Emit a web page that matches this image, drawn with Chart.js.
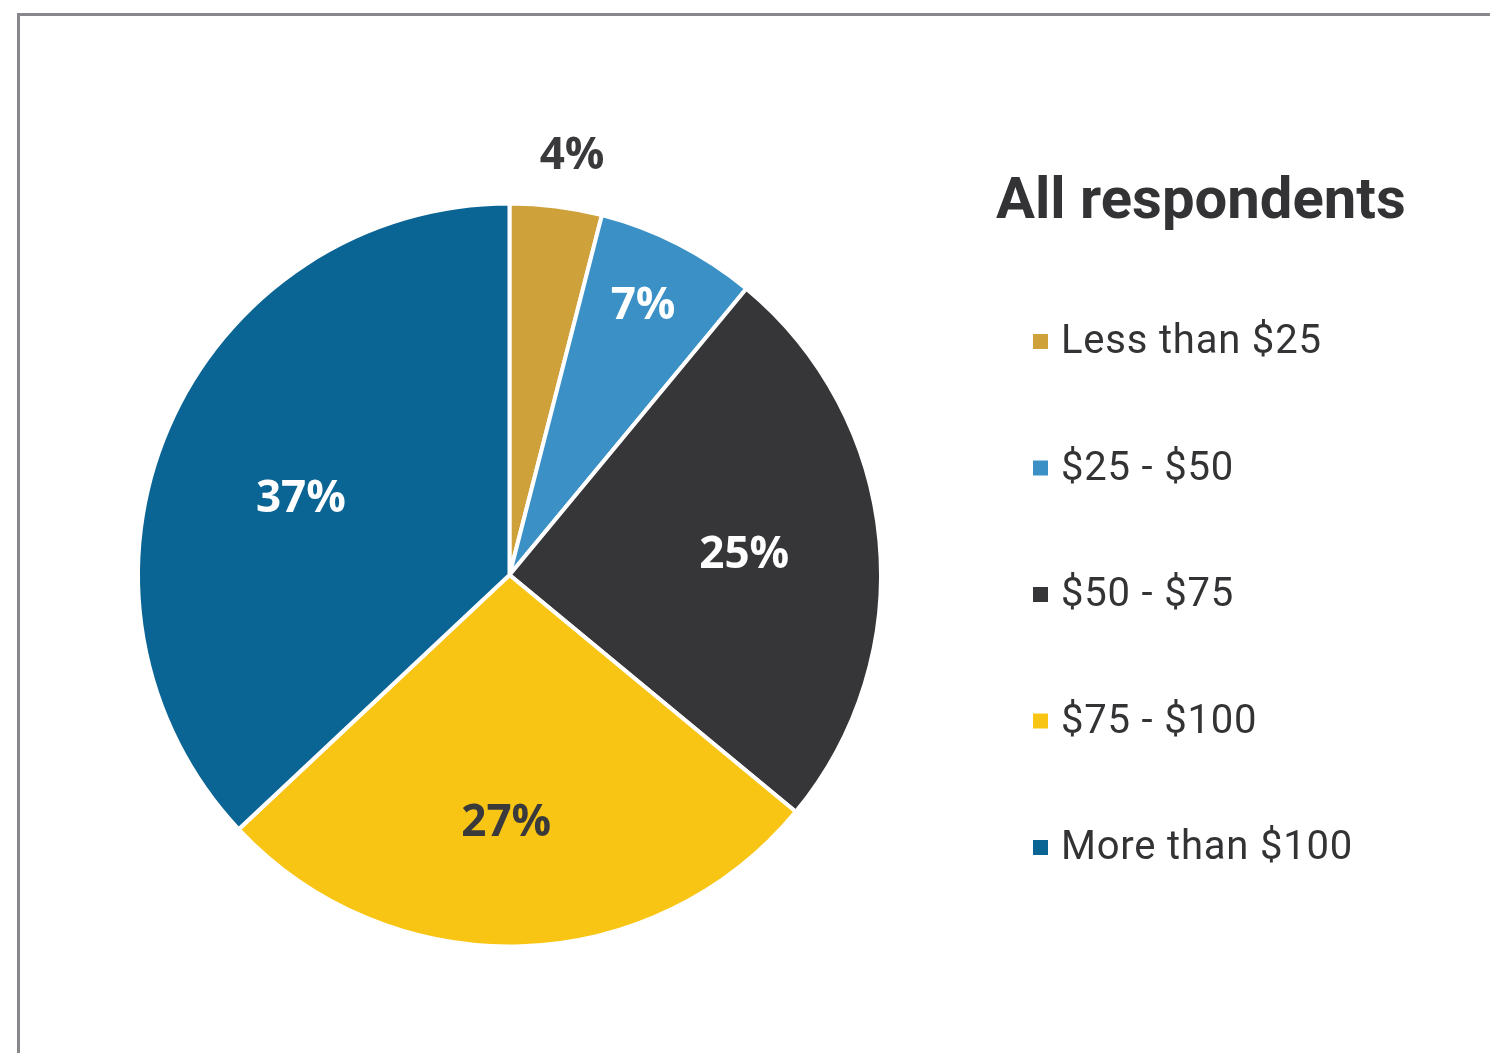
<!DOCTYPE html>
<html>
<head>
<meta charset="utf-8">
<script src="https://cdn.jsdelivr.net/npm/chart.js@4/dist/chart.umd.min.js"></script>
<style>
  html, body { margin: 0; padding: 0; background: #ffffff; }
  #wrap { position: absolute; left: 0; top: 0; width: 1490px; height: 1053px; }
  #frame { position: absolute; left: 17px; top: 13px; width: 1480px; height: 1060px;
           border-left: 3px solid #88878b; border-top: 3px solid #88878b; box-sizing: border-box; }
  canvas { position: absolute; left: 0; top: 0; }
</style>
</head>
<body>
<div id="wrap">
  <div id="frame"></div>
  <canvas id="c" width="1490" height="1053"></canvas>
</div>
<script>
// ---- data ----
const categories = ["Less than $25", "$25 - $50", "$50 - $75", "$75 - $100", "More than $100"];
const shares = [4, 7, 25, 27, 37];
const valueLabels = ["4%", "7%", "25%", "27%", "37%"];
const chartTitle = "All respondents";

// ---- styles ----
const sliceColors = ["#CFA13B", "#3B91C5", "#363638", "#F9C515", "#0A6594"];
const labelColors = ["#3a3a3c", "#ffffff", "#ffffff", "#3a3a3c", "#ffffff"];
const labelRadius = [1.15, 0.81, 0.64, 0.66, 0.60];
const labelNudge = [[9, 5], [-3, 0], [-2, 3], [-11, 3], [-4, 13]];

const overlay = {
  id: 'overlay',
  afterDraw(chart) {
    const ctx = chart.ctx;
    const meta = chart.getDatasetMeta(0);
    ctx.save();
    // slice labels
    ctx.font = "bold 44px 'Open Sans'";
    ctx.textAlign = 'center';
    ctx.textBaseline = 'middle';
    meta.data.forEach((arc, i) => {
      const p = arc.getProps(['x', 'y', 'startAngle', 'endAngle', 'outerRadius'], true);
      const mid = (p.startAngle + p.endAngle) / 2;
      const r = p.outerRadius * labelRadius[i];
      ctx.fillStyle = labelColors[i];
      ctx.fillText(valueLabels[i],
        p.x + Math.cos(mid) * r + labelNudge[i][0],
        p.y + Math.sin(mid) * r + labelNudge[i][1]);
    });
    // title
    ctx.textAlign = 'left';
    ctx.textBaseline = 'middle';
    ctx.fillStyle = '#333335';
    ctx.font = "bold 58px Roboto";
    ctx.fillText(chartTitle, 996, 203);
    // legend
    ctx.font = "40px Roboto";
    ctx.letterSpacing = '0.8px';
    categories.forEach((lab, i) => {
      const y = 342 + i * 126.5;
      ctx.fillStyle = sliceColors[i];
      ctx.fillRect(1033, y - 8, 15, 15);
      ctx.fillStyle = '#333335';
      ctx.fillText(lab, 1061, y + 1);
    });
    ctx.restore();
  }
};

new Chart(document.getElementById('c'), {
  type: 'pie',
  data: {
    labels: categories,
    datasets: [{
      data: shares,
      backgroundColor: sliceColors,
      borderColor: '#ffffff',
      borderWidth: 4,
      borderJoinStyle: 'miter'
    }]
  },
  options: {
    responsive: false,
    animation: false,
    layout: { padding: { left: 136, right: 607, top: 200, bottom: 103 } },
    plugins: { legend: { display: false }, tooltip: { enabled: false }, title: { display: false } }
  },
  plugins: [overlay]
});
</script>
</body>
</html>
